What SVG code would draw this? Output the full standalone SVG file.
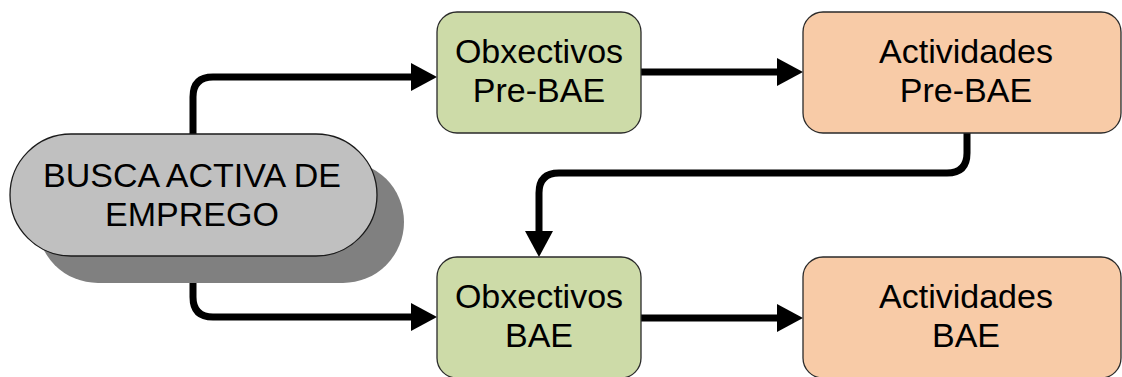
<svg xmlns="http://www.w3.org/2000/svg" width="1122" height="377" viewBox="0 0 1122 377">
<defs>
<style>
.box{stroke:#2a2a2a;stroke-width:1.3}
.g{fill:#cddba8}
.o{fill:#f8cba7}
.t{font-family:"Liberation Sans",Arial,sans-serif;font-size:34px;fill:#000;text-anchor:middle}
.c{fill:none;stroke:#000;stroke-width:7;stroke-linecap:round;stroke-linejoin:round}
</style>
<marker id="ah" markerUnits="userSpaceOnUse" markerWidth="26" markerHeight="28" refX="16" refY="14" orient="auto">
<path d="M0,0 L26,14 L0,28 z" fill="#000"/>
</marker>
</defs>
<rect width="1122" height="377" fill="#fff"/>
<g id="connectors">
<path class="c" d="M193,134 V97 Q193,77 213,77 H427" marker-end="url(#ah)"/>
<path class="c" d="M193,256 V297 Q193,317 213,317 H427" marker-end="url(#ah)"/>
<path class="c" d="M641,72 H793" marker-end="url(#ah)"/>
<path class="c" d="M641,318 H793" marker-end="url(#ah)"/>
<path class="c" d="M967,133 V153 Q967,173 947,173 H559 Q539,173 539,193 V247" marker-end="url(#ah)"/>
</g>
<g id="busca">
<rect x="37" y="161" width="367" height="122" rx="61" fill="#808080"/>
<rect x="10" y="134" width="367" height="122" rx="61" fill="#c0c0c0" stroke="#1a1a1a" stroke-width="1.3"/>
<text class="t" x="192" y="187">BUSCA ACTIVA DE</text>
<text class="t" x="192" y="226">EMPREGO</text>
</g>
<g id="obx-pre">
<rect class="box g" x="437" y="12" width="204" height="121" rx="20"/>
<text class="t" x="539" y="63">Obxectivos</text>
<text class="t" x="539" y="102">Pre-BAE</text>
</g>
<g id="act-pre">
<rect class="box o" x="803" y="12" width="318" height="121" rx="20"/>
<text class="t" x="966" y="63">Actividades</text>
<text class="t" x="966" y="102">Pre-BAE</text>
</g>
<g id="obx-bae">
<rect class="box g" x="437" y="257" width="204" height="121" rx="20"/>
<text class="t" x="539" y="308">Obxectivos</text>
<text class="t" x="539" y="347">BAE</text>
</g>
<g id="act-bae">
<rect class="box o" x="803" y="257" width="318" height="121" rx="20"/>
<text class="t" x="966" y="308">Actividades</text>
<text class="t" x="966" y="347">BAE</text>
</g>
</svg>
